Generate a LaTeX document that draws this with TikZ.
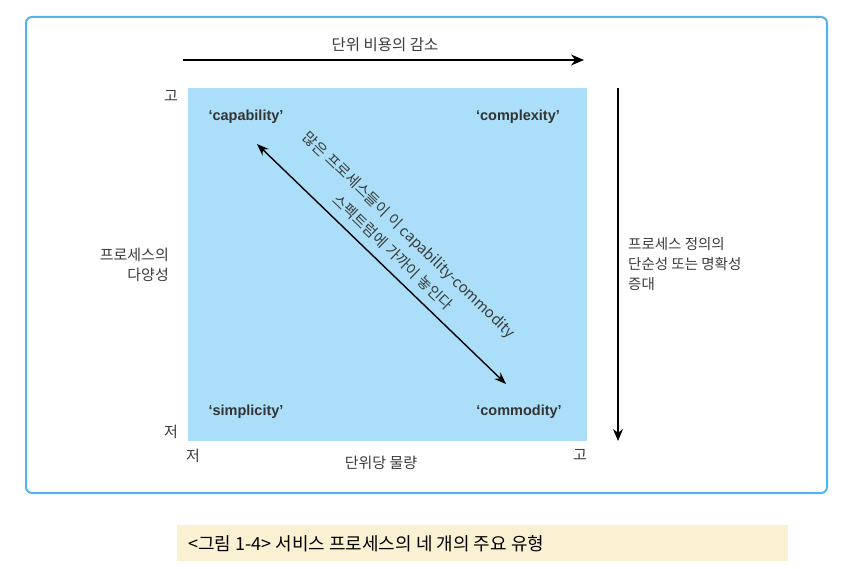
\documentclass[tikz,border=0pt]{standalone}
\usepackage{fontspec}
\setmainfont{Liberation Sans}
\newfontfamily\kofont{Noto Sans CJK KR}
\usetikzlibrary{arrows.meta}
\definecolor{frameblue}{RGB}{80,182,234}
\definecolor{boxblue}{RGB}{171,223,249}
\definecolor{capfill}{RGB}{250,240,210}
\definecolor{labelgray}{RGB}{60,60,60}

\begin{document}
\begin{tikzpicture}[x=1pt,y=-1pt,
  kolabel/.style={font=\kofont\fontsize{15}{20}\selectfont, text=labelgray, inner sep=0pt},
  corner/.style={font=\bfseries\fontsize{14.5}{16}\selectfont, text=black!80, inner sep=0pt},
  bigarrow/.style={line width=2.4pt, -{Stealth[length=13pt,width=11pt]}}]
\useasboundingbox[fill=white] (0,0) rectangle (845,569);
% frame and square
\draw[frameblue, line width=2pt, rounded corners=6pt] (26,17) rectangle (827,493);
\fill[boxblue] (188,88) rectangle (587,441);
% top arrow
\coordinate (costL) at (183,60);
\coordinate (costR) at (584,60);
\draw[bigarrow] (costL) -- (costR);
\node[kolabel, font=\kofont\fontsize{15.5}{20}\selectfont] (cost) at (385,45) {단위 비용의 감소};
% right arrow
\coordinate (defT) at (618,88);
\coordinate (defB) at (618,441);
\draw[line width=2pt, -{Stealth[length=12pt,width=10pt]}] (defT) -- (defB);
\node[kolabel, font=\kofont\fontsize{14.5}{20}\selectfont, anchor=north west, align=left] (defin) at (628,237) {프로세스 정의의\\단순성 또는 명확성\\증대};
% left axis
\node[kolabel] (hiL) at (171,96) {고};
\node[kolabel] (loL) at (171,432) {저};
\node[kolabel, anchor=east, align=right] (variety) at (169,265) {프로세스의\\다양성};
% bottom axis
\node[kolabel] (loB) at (193,456) {저};
\node[kolabel] (hiB) at (580,455) {고};
\node[kolabel] (volume) at (381,463) {단위당 물량};
% corners
\node[corner] (capab) at (246,117) {`capability'};
\node[corner] (complex) at (518,117) {`complexity'};
\node[corner] (simpl) at (246,412) {`simplicity'};
\node[corner] (commod) at (519,412) {`commodity'};
% diagonal
\coordinate (diagA) at (257,144);
\coordinate (diagB) at (506,384);
\draw[line width=1.4pt, {Stealth[length=12pt,width=9pt]}-{Stealth[length=12pt,width=9pt]}] (diagA) -- (diagB)
  node[midway, sloped, anchor=south, yshift=9pt, kolabel, font=\kofont\fontsize{15}{24}\selectfont, align=center] (spectrum)
  {많은 프로세스들이 이 capability-commodity\\스펙트럼에 가까이 놓인다};
% caption
\fill[capfill] (177,525) rectangle (788,561);
\node[anchor=west, inner sep=0pt, font=\kofont\fontsize{18}{20}\selectfont] (caption) at (188,544) {<그림 1-4> 서비스 프로세스의 네 개의 주요 유형};
\end{tikzpicture}
\end{document}
